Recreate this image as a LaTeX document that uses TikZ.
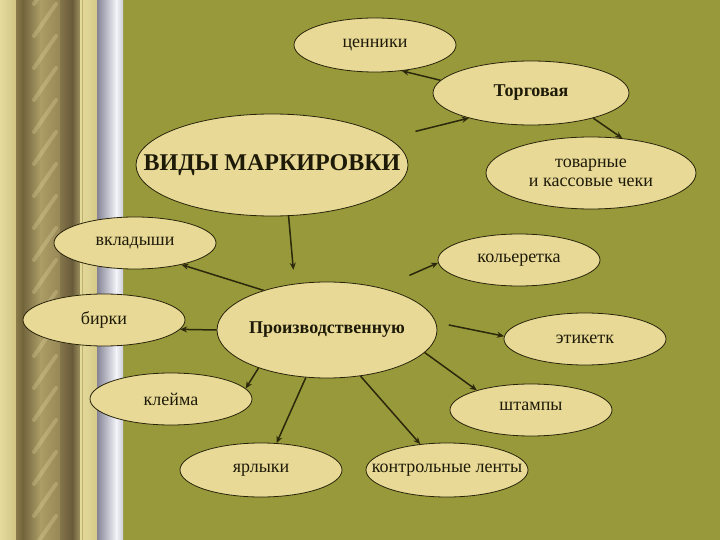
\documentclass[tikz,border=0pt]{standalone}
\usepackage{fontspec}
\setmainfont{Liberation Serif}
\usetikzlibrary{shapes.geometric,arrows.meta}
\definecolor{olive}{RGB}{152,153,58}
\definecolor{cream}{RGB}{232,217,150}
\definecolor{edge}{RGB}{40,36,10}
\definecolor{arr}{RGB}{44,40,12}
\definecolor{ink}{RGB}{30,26,8}
\definecolor{goldline}{RGB}{190,178,110}
\definecolor{glint}{RGB}{240,228,170}
\newcommand{\zw}[1]{\makebox[0pt][c]{#1}}
\tikzset{
  bubble/.style={ellipse, draw=edge, line width=0.8pt, fill=cream, inner sep=0pt, text=ink,
     font=\fontsize{18}{20}\selectfont},
  boldbubble/.style={bubble, font=\fontsize{18}{20}\selectfont\bfseries},
  conn/.style={draw=arr, line width=1.5pt, -{Stealth[length=7pt,width=6pt]}}
}
\begin{document}
\begin{tikzpicture}[x=1pt,y=-1pt]
\useasboundingbox (0,0) rectangle (720,540);
\fill[olive] (0,0) rectangle (720,540);
% left decorative stripes
\shade[left color={rgb,255:red,228;green,218;blue,156}, right color={rgb,255:red,210;green,197;blue,131}] (0,0) rectangle (16.5,540);
\shade[left color={rgb,255:red,138;green,122;blue,74}, right color={rgb,255:red,110;green,96;blue,56}] (16,0) rectangle (24.5,540);
\shade[left color={rgb,255:red,118;green,104;blue,64}, right color={rgb,255:red,172;green,157;blue,102}] (24,0) rectangle (40.5,540);
\shade[left color={rgb,255:red,172;green,157;blue,102}, right color={rgb,255:red,150;green,135;blue,86}] (40,0) rectangle (60.5,540);
\shade[left color={rgb,255:red,132;green,117;blue,74}, right color={rgb,255:red,104;green,90;blue,58}] (60,0) rectangle (72.5,540);
\shade[left color={rgb,255:red,104;green,90;blue,58}, right color={rgb,255:red,160;green,147;blue,96}] (72,0) rectangle (80.5,540);
\begin{scope}
  \clip (26,0) rectangle (66,540);
  \foreach \yy in {-10,22,...,560} {
    \draw[line width=4pt, glint, opacity=0.25, line cap=round] (34,\yy+14) -- (56,\yy-18);
  }
\end{scope}
\shade[left color={rgb,255:red,228;green,218;blue,154}, right color={rgb,255:red,214;green,202;blue,136}] (80,0) rectangle (97.5,540);
\draw[line width=0.6pt, goldline] (82,0) -- (82,540);
\shade[left color={rgb,255:red,132;green,132;blue,150}, right color={rgb,255:red,244;green,244;blue,250}] (97,0) rectangle (116.5,540);
\shade[left color={rgb,255:red,244;green,244;blue,250}, right color={rgb,255:red,206;green,206;blue,216}] (116,0) rectangle (123,540);

% nodes
\node[bubble, minimum width=162pt, minimum height=54pt] (cen) at (375,45) {\zw{ценники}};
\node[boldbubble, minimum width=196pt, minimum height=64pt] (torg) at (531,93) {\zw{Торговая}};
\node[bubble, minimum width=272pt, minimum height=102pt, font=\fontsize{24}{26}\selectfont\bfseries] (vid) at (272,165) {\zw{ВИДЫ МАРКИРОВКИ}};
\node[bubble, minimum width=210pt, minimum height=72pt] (tov) at (591,173) {\zw{\begin{tabular}{@{}c@{}}товарные\\[-1pt]и кассовые чеки\end{tabular}}};
\node[bubble, minimum width=162pt, minimum height=52pt] (vkl) at (135,243) {\zw{вкладыши}};
\node[bubble, minimum width=162pt, minimum height=52pt] (kol) at (519,260) {\zw{кольеретка}};
\node[bubble, minimum width=162pt, minimum height=52pt] (bir) at (104,320) {\zw{бирки}};
\node[boldbubble, minimum width=220pt, minimum height=96pt] (prod) at (327,330) {\zw{Производственную}};
\node[bubble, minimum width=162pt, minimum height=52pt] (eti) at (585,339) {\zw{\raisebox{-2pt}{этикетк}}};
\node[bubble, minimum width=162pt, minimum height=52pt] (kle) at (171,399) {\zw{клейма}};
\node[bubble, minimum width=162pt, minimum height=52pt] (sht) at (531,410) {\zw{\raisebox{7pt}{штампы}}};
\node[bubble, minimum width=162pt, minimum height=54pt] (yar) at (261,470) {\zw{ярлыки}};
\node[bubble, minimum width=162pt, minimum height=54pt] (kon) at (447,470) {\zw{контрольные ленты}};

% connectors
\draw[conn] (torg.172) -- (cen.-44);
\draw[conn, shorten <=28pt] (vid.13) -- (torg.202);
\draw[conn] (torg.-22) -- (tov.48);
\draw[conn, shorten >=14pt] (vid.-72.6) -- (prod.125);
\draw[conn] (prod.148.7) -- (vkl.-25);
\draw[conn] (prod.180) -- (bir.-7);
\draw[conn] (prod.209.4) -- (kle.8.8);
\draw[conn] (prod.-114.6) -- (yar.60);
\draw[conn] (prod.-54.7) -- (kon.136);
\draw[conn] (prod.-13) -- (sht.160);
\draw[conn, shorten <=13pt] (prod.4.5) -- (eti.178);
\draw[conn, shorten <=31pt] (prod.38) -- (kol.182);
\end{tikzpicture}
\end{document}
